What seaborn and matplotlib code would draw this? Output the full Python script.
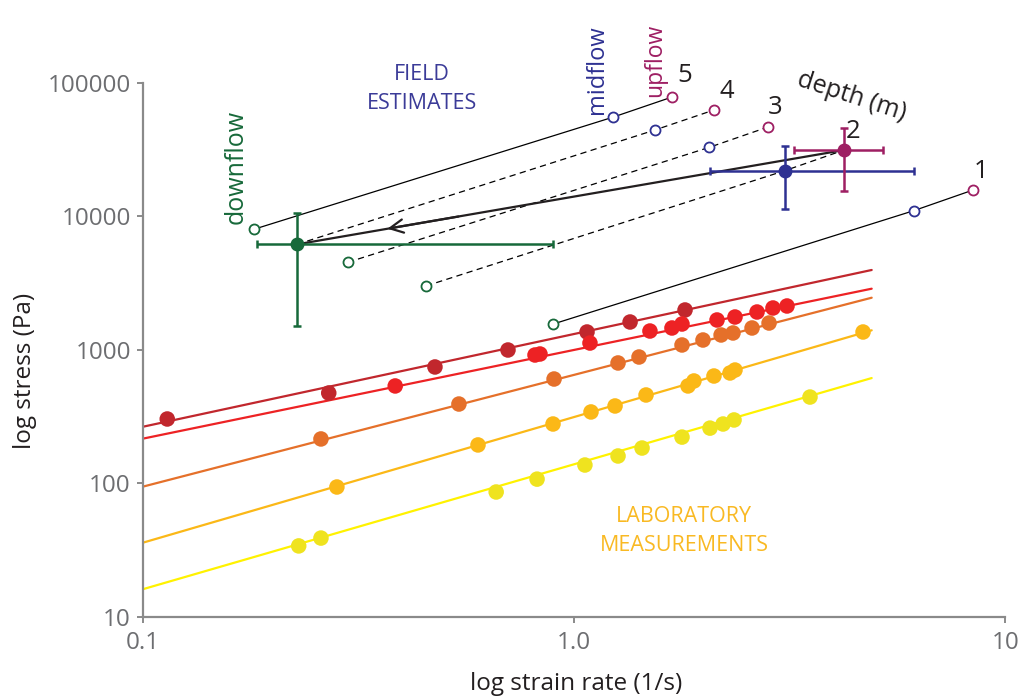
import numpy as np
import pandas as pd
import matplotlib
matplotlib.use("Agg")
import matplotlib.pyplot as plt
import seaborn as sns

# ---------------- laboratory measurements (strain rate 1/s, stress Pa) -------------
lab_series = ["A", "B", "C", "D", "E"]
dot_colors = ["#c1272d", "#ed2224", "#e5702a", "#fbb817", "#efe31f"]
fit_colors = ["#c1272d", "#ed2224", "#e5702a", "#fbb817", "#fff200"]

A_rate = [0.114, 0.270, 0.476, 0.703, 1.072, 1.349, 1.809]
A_stress = [302, 473, 741, 993, 1355, 1610, 1981]
B_rate = [0.385, 0.812, 0.834, 1.089, 1.500, 1.687, 1.780, 2.146, 2.362, 2.657, 2.893, 3.118]
B_stress = [534, 911, 927, 1120, 1378, 1452, 1555, 1667, 1755, 1913, 2050, 2122]
C_rate = [0.259, 0.541, 0.899, 1.265, 1.415, 1.780, 1.991, 2.193, 2.337, 2.587, 2.833]
C_stress = [214, 391, 602, 794, 880, 1083, 1180, 1287, 1332, 1452, 1582]
D_rate = [0.282, 0.599, 0.894, 1.095, 1.245, 1.469, 1.838, 1.897, 2.111, 2.300, 2.362, 4.679]
D_stress = [93.4, 193, 277, 341, 378, 457, 534, 582, 634, 668, 703, 1355]
E_rate = [0.230, 0.259, 0.660, 0.821, 1.060, 1.265, 1.438, 1.780, 2.067, 2.216, 2.350, 3.525]
E_stress = [33.8, 38.7, 85.7, 107, 136.5, 159.5, 183, 221, 258, 277, 297, 441]

# power-law fit lines (stress at the two ends of the fitted range)
fit_rate = [0.1, 4.9]
A_fit = [264, 3950]
B_fit = [215, 2860]
C_fit = [93.9, 2448]
D_fit = [35.7, 1395]
E_fit = [16.0, 612]

# ---------------- field estimates, per depth 1..5 -----------------------------------
depths = ["1", "2", "3", "4", "5"]
up_rate = [8.42, 4.23, 2.82, 2.11, 1.69]
up_stress = [15700, 31300, 46600, 62400, 78200]
mid_rate = [6.14, 3.08, 2.06, 1.54, 1.23]
mid_stress = [11000, 21900, 32800, 44200, 55100]
down_rate = [0.895, 0.454, 0.299, 0.228, 0.181]
down_stress = [1555, 3000, 4510, 6150, 7970]

# mean values with ranges (downflow, midflow, upflow)
mean_names = ["downflow", "midflow", "upflow"]
mean_rate = [0.228, 3.08, 4.23]
mean_stress = [6150, 21900, 31300]
rate_lo = [0.184, 2.07, 3.24]
rate_hi = [0.895, 6.14, 5.20]
stress_lo = [1511, 11370, 15440]
stress_hi = [10560, 33560, 45780]

green = "#17693a"
blue = "#2e3192"
purple = "#9e1f63"

# ---------------- figure ----------------
sns.set_theme(style="ticks")
plt.rcParams["font.family"] = ["Open Sans", "DejaVu Sans"]

W, H = 1025, 696
fig = plt.figure(figsize=(W / 100, H / 100), dpi=100)
ax = fig.add_axes([142.7 / W, 1 - 616.5 / H, 862.6 / W, 533.8 / H])
ax.set_xscale("log")
ax.set_yscale("log")
ax.set_xlim(0.1, 10)
ax.set_ylim(10, 100000)

# lab data frames
rates = [A_rate, B_rate, C_rate, D_rate, E_rate]
stresses = [A_stress, B_stress, C_stress, D_stress, E_stress]
fits = [A_fit, B_fit, C_fit, D_fit, E_fit]
lab_df = pd.concat([pd.DataFrame({"series": s, "rate": r, "stress": st})
                    for s, r, st in zip(lab_series, rates, stresses)])
fit_df = pd.concat([pd.DataFrame({"series": s, "rate": fit_rate, "stress": f})
                    for s, f in zip(lab_series, fits)])

sns.lineplot(data=fit_df, x="rate", y="stress", hue="series",
             palette=dict(zip(lab_series, fit_colors)), estimator=None,
             sort=False, linewidth=1.6, legend=False, ax=ax, zorder=2)
sns.scatterplot(data=lab_df, x="rate", y="stress", hue="series",
                palette=dict(zip(lab_series, dot_colors)), s=125,
                linewidth=0, legend=False, ax=ax, zorder=3)

# field depth connecting lines
field_df = pd.concat([pd.DataFrame({"depth": d,
                                    "rate": [down_rate[i], mid_rate[i], up_rate[i]],
                                    "stress": [down_stress[i], mid_stress[i], up_stress[i]]})
                      for i, d in enumerate(depths)])
sns.lineplot(data=field_df, x="rate", y="stress", units="depth", style="depth",
             dashes={"1": "", "2": (5, 3.5), "3": (5, 3.5), "4": (5, 3.5), "5": ""},
             estimator=None, sort=False, color="black", linewidth=0.9,
             legend=False, ax=ax, zorder=4)

# open circles
for r, st, c in [(down_rate, down_stress, green), (mid_rate, mid_stress, blue),
                 (up_rate, up_stress, purple)]:
    sns.scatterplot(x=r, y=st, marker="o", s=52, facecolor="white",
                    edgecolor=c, linewidth=1.3, ax=ax, zorder=5, legend=False)

# mean points with error bars
for i, c in enumerate([green, blue, purple]):
    xe = [[mean_rate[i] - rate_lo[i]], [rate_hi[i] - mean_rate[i]]]
    ye = [[mean_stress[i] - stress_lo[i]], [stress_hi[i] - mean_stress[i]]]
    ax.errorbar([mean_rate[i]], [mean_stress[i]], xerr=xe, yerr=ye, fmt="o",
                color=c, ms=9, elinewidth=1.8, capsize=3.2, capthick=1.8, zorder=7)

# trend arrow from upflow mean to downflow mean
ax.plot([mean_rate[2], mean_rate[0]], [mean_stress[2], mean_stress[0]],
        color="#231f20", lw=1.6, zorder=6)
lx0, ly0 = np.log10(mean_rate[0]), np.log10(mean_stress[0])
lx1, ly1 = np.log10(mean_rate[2]), np.log10(mean_stress[2])
t_head, t_tail = 0.16, 0.30
head = (10 ** (lx0 + t_head * (lx1 - lx0)), 10 ** (ly0 + t_head * (ly1 - ly0)))
tail = (10 ** (lx0 + t_tail * (lx1 - lx0)), 10 ** (ly0 + t_tail * (ly1 - ly0)))
ax.annotate("", xy=head, xytext=tail,
            arrowprops=dict(arrowstyle="->", lw=1.6, color="#231f20",
                            mutation_scale=24), zorder=6)

# axes styling
sns.despine(ax=ax)
spine_c = "#8a8a8a"
for s in ["left", "bottom"]:
    ax.spines[s].set_color(spine_c)
    ax.spines[s].set_linewidth(1.6)
ax.set_xticks([0.1, 1, 10])
ax.set_xticklabels(["0.1", "1.0", "10"])
ax.set_yticks([10, 100, 1000, 10000, 100000])
ax.set_yticklabels(["10", "100", "1000", "10000", "100000"])
ax.minorticks_off()
ax.tick_params(axis="both", length=4.5, width=1.4, color=spine_c,
               labelsize=17.5, labelcolor="#6d6e71")
ax.tick_params(axis="x", pad=6)
ax.tick_params(axis="y", pad=4)
ax.grid(False)
ax.set_xlabel("log strain rate (1/s)", fontsize=17.5, color="#231f20")
ax.set_ylabel("log stress (Pa)", fontsize=17.5, color="#231f20")
ax.xaxis.set_label_coords(0.503, -0.104)
ax.yaxis.set_label_coords(-0.122, 0.46)


def fpos(px, py):
    return px / W, 1 - py / H


fig.text(*fpos(422, 89), "FIELD\nESTIMATES", color="#3b3b98", fontsize=15.5,
         ha="center", va="center", linespacing=1.45)
fig.text(*fpos(684, 531), "LABORATORY\nMEASUREMENTS", color="#f9b923",
         fontsize=15.5, ha="center", va="center", linespacing=1.45)
fig.text(*fpos(236, 167), "downflow", color=green, fontsize=18, rotation=90,
         ha="center", va="center")
fig.text(*fpos(597, 70), "midflow", color=blue, fontsize=17, rotation=90,
         ha="center", va="center")
fig.text(*fpos(655, 60), "upflow", color=purple, fontsize=16.5, rotation=90,
         ha="center", va="center")
fig.text(*fpos(852, 97), "depth (m)", color="#231f20", fontsize=18,
         rotation=-18, ha="center", va="center", rotation_mode="anchor")
for lbl, (px, py) in zip(["5", "4", "3", "2", "1"],
                         [(685, 75), (727, 91), (775, 107), (853, 132), (981, 172)]):
    fig.text(*fpos(px, py), lbl, color="#231f20", fontsize=18.5,
             ha="center", va="center")

fig.savefig("out.png", dpi=100)
